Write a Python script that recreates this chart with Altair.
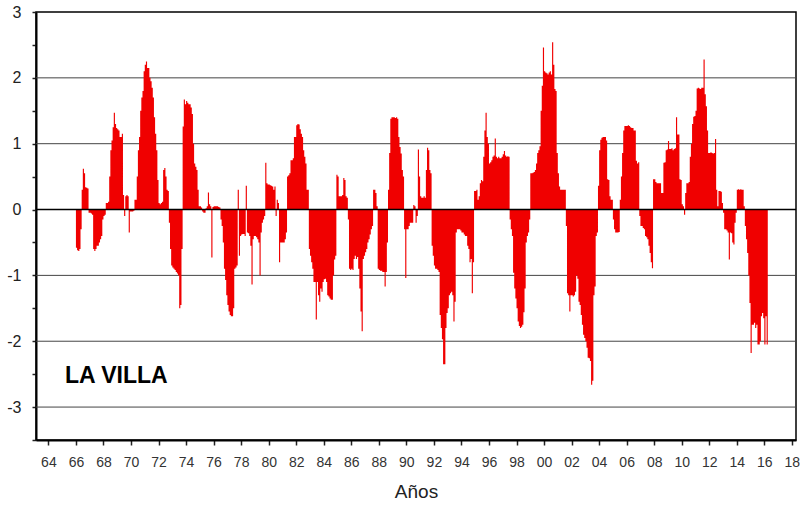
import altair as alt
import pandas as pd

# Monthly index values, January 1966 onwards
spi_1966_1969 = [
    -0.58, -0.62, -0.63, -0.6, -0.3, 0.3, 0.62, 0.55, 0.34, 0.33, 0.32, -0.05,
    -0.05, -0.06, -0.08, -0.6, -0.63, -0.6, -0.55, -0.55, -0.5, -0.45, -0.4, -0.15,
    -0.1, -0.08, 0.1, 0.1, 0.12, 0.5, 0.9, 1.05, 1.25, 1.47, 1.3, 1.24,
    1.22, 1.2, 1.1, 1.1, 1.15, 0.22, -0.1, 0.2, 0.22, 0.2, -0.35, -0.03,
]
spi_1970s = [
    -0.03, -0.03, -0.02, 0.15, 0.15, 0.5, 0.9, 1.1, 1.5, 1.7, 1.8, 2.1,
    2.2, 2.25, 2.15, 2.15, 2.0, 1.95, 1.85, 1.7, 1.4, 1.15, 0.9, 0.45,
    0.1, 0.08, 0.1, 0.12, 0.6, 0.63, 0.5, 0.3, 0.28, -0.2, -0.6, -0.85,
    -0.88, -0.9, -0.92, -0.95, -0.97, -1.0, -1.5, -1.45, -0.6, 1.26, 1.67, 1.6,
    1.65, 1.62, 1.6, 1.6, 1.55, 1.45, 1.0, 0.7, 0.65, 0.6, 0.3, 0.05,
    0.05, 0.03, -0.03, -0.05, -0.05, 0.02, 0.05, 0.26, 0.08, 0.05, -0.73, 0.04,
    0.05, 0.05, 0.05, 0.05, 0.04, 0.03, -0.15, -0.25, -0.5, -0.9, -1.07, -1.3,
    -1.45, -1.55, -1.6, -1.62, -1.62, -1.5, -0.9, -0.88, -0.85, 0.3, -0.7, -0.4,
    -0.38, -0.37, -0.37, -0.4, 0.36, -0.35, -0.36, -0.4, -0.55, -1.14, -0.45, -0.4,
    -0.4, -0.42, -0.45, -0.5, -1.0, -0.35, -0.2, -0.15, -0.1, 0.71, 0.4, 0.38,
]
spi_1980s = [
    0.38, 0.37, 0.36, 0.35, 0.3, 0.35, -0.1, 0.15, 0.1, -0.8, -0.5, -0.5,
    -0.5, -0.5, -0.45, -0.35, 0.5, 0.52, 0.55, 0.75, 0.75, 0.78, 1.1, 1.1,
    1.28, 1.3, 1.29, 1.22, 1.15, 1.1, 0.9, 0.8, 0.7, 0.3, 0.3, -0.6,
    -0.7, -0.8, -0.9, -1.1, -1.1, -1.67, -1.1, -1.3, -1.4, -1.2, -1.25, -1.1,
    -1.06, -1.05, -1.1, -1.3, -1.32, -1.35, -1.37, -1.37, -1.0, -0.76, -0.7, 0.53,
    0.5, 0.2, 0.2, 0.2, 0.22, 0.48, 0.45, 0.2, 0.18, -0.15, -0.9, -0.92,
    -0.9, -0.92, -0.75, -0.7, -0.75, -0.72, -0.9, -1.2, -1.55, -1.85, -0.75, -0.7,
    -0.65, -0.6, -0.5, -0.45, -0.38, -0.3, -0.25, 0.3, 0.3, 0.25, 0.05, -0.9,
    -0.92, -0.93, -0.93, -0.95, -0.95, -1.17, -0.95, -0.5, 0.3, 0.86, 1.38, 1.4,
    1.4, 1.4, 1.39, 1.4, 1.38, 1.1, 0.95, 0.85, 0.6, 0.5, -0.3, -1.04,
]
spi_1990s = [
    -0.3, -0.3, -0.25, -0.2, -0.2, -0.2, 0.07, 0.05, -0.2, -0.1, 0.91, 0.5,
    0.2, 0.18, 0.18, 0.2, 0.18, 0.6, 0.94, 0.9, 0.6, 0.55, -0.55, -0.7,
    -0.85, -0.9, -0.9, -0.92, -0.95, -1.6, -1.8, -1.97, -2.35, -2.35, -1.8, -1.57,
    -1.5, -1.3, -1.27, -1.25, -1.3, -1.7, -1.4, -0.35, -0.3, -0.3, -0.3, -0.32,
    -0.35, -0.35, -0.38, -0.4, -0.4, -0.55, -0.6, -0.8, -0.75, -1.27, -0.8, 0.28,
    0.28, 0.3, 0.15, 0.2, 0.4, 0.45, 0.43, 0.8, 1.2, 1.47, 1.1, 1.0,
    0.7, 0.72, 0.75, 0.8, 0.82, 1.08, 0.8, 0.78, 0.8, 0.78, 0.78, 0.8,
    0.84, 0.89, 0.82, 0.8, 0.81, 0.8, -0.15, -0.3, -0.4, -0.96, -1.2, -1.35,
    -1.5, -1.7, -1.77, -1.8, -1.78, -1.75, -1.56, -1.2, -0.5, -0.4, -0.35, -0.15,
    0.55, 0.55, 0.56, 0.57, 0.6, 0.7, 0.86, 0.9, 0.96, 1.5, 1.88, 2.46,
]
spi_2000s = [
    2.1, 2.08, 2.07, 2.05, 2.08, 2.1, 2.05, 2.54, 2.2, 1.83, 1.8, 0.86,
    0.55, 0.35, 0.3, 0.3, 0.3, 0.3, 0.3, -0.25, -1.27, -1.3, -1.55, -1.3,
    -1.3, -1.32, -1.3, -1.25, -1.0, -1.05, -1.4, -1.45, -1.6, -1.75, -1.9, -1.95,
    -2.0, -2.1, -2.25, -2.26, -2.3, -2.66, -2.6, -1.3, -1.17, -0.4, -0.35, 0.36,
    0.9, 1.06, 1.09, 1.1, 1.1, 1.1, 1.05, 0.46, 0.45, 0.2, 0.15, 0.15,
    -0.15, -0.3, -0.35, -0.35, -0.35, -0.34, 0.15, 0.5, 0.86, 1.2, 1.27, 1.27,
    1.27, 1.28, 1.27, 1.25, 1.24, 1.24, 1.2, 1.2, 0.74, 0.7, 0.72, -0.1,
    -0.25, -0.25, -0.28, -0.3, -0.4, -0.42, -0.45, -0.55, -0.66, -0.8, -0.89, 0.46,
    0.46, 0.42, 0.4, 0.4, 0.4, 0.4, 0.25, 0.25, 0.71, 0.72, 0.9, 0.91,
    1.04, 0.92, 0.92, 0.93, 0.9, 0.92, 0.93, 1.4, 1.14, 1.14, 0.46, 0.45,
]
spi_2010s = [
    0.08, 0.05, -0.08, 0.25, 0.4, 0.4, 0.42, 0.8, 1.0, 1.3, 1.41, 1.42,
    1.5, 1.84, 1.85, 1.84, 1.83, 1.85, 1.85, 2.28, 1.75, 1.57, 1.2, 0.86,
    0.86, 0.87, 0.86, 0.85, 0.86, 1.07, 0.3, 0.05, 0.28, 0.28, 0.27, 0.1,
    -0.05, -0.3, -0.3, -0.32, -0.35, -0.76, -0.35, -0.36, -0.5, -0.53, -0.2, -0.05,
    0.3, 0.31, 0.3, 0.31, 0.3, 0.3, 0.05, -0.25, -0.45, -0.66, -1.0, -1.42,
    -2.18, -1.75, -1.75, -1.72, -1.8, -1.75, -2.05, -2.05, -2.0, -1.62, -1.57, -1.65,
    -2.05, -1.62, -2.05,
]

start_year = 1966
x_ticks = list(range(1964, 2019, 2))
y_ticks = [-3.5, -3, -2.5, -2, -1.5, -1, -0.5, 0, 0.5, 1, 1.5, 2, 2.5, 3]
grid_lines = [-3, -2, -1, 1, 2]
station = ["LA VILLA"]

values = spi_1966_1969 + spi_1970s + spi_1980s + spi_1990s + spi_2000s + spi_2010s
times = [start_year + i / 12 for i in range(len(values))]
# closing point so the last month gets its full step width
times_ext = times + [start_year + len(values) / 12]
values_ext = values + [values[-1]]
df = pd.DataFrame({"t": times_ext, "v": values_ext})

x_scale = alt.Scale(domain=[1963.1, 2018.3], nice=False, zero=False)
y_scale = alt.Scale(domain=[-3.5, 3], nice=False, zero=False)

y_axis = alt.Axis(
    values=y_ticks,
    labelExpr="(datum.value % 1 == 0) ? toString(datum.value) : ''",
    title=None,
    grid=False,
    tickSize=4,
    tickColor="#222222",
    tickWidth=1.5,
    labelFontSize=16,
    labelColor="#222222",
    labelPadding=11,
    labelFlush=False,
    labelOverlap=False,
    domainColor="black",
    domainWidth=2,
)

x_axis = alt.Axis(
    values=x_ticks,
    labelExpr="substring(toString(datum.value), 2)",
    title="Años",
    titleFontSize=19,
    titleFontWeight="normal",
    titleColor="#222222",
    titleY=57,
    titleX=380,
    titleBaseline="alphabetic",
    grid=False,
    tickSize=5,
    tickColor="#222222",
    tickWidth=1.5,
    labelFontSize=14,
    labelColor="#333333",
    labelBaseline="alphabetic",
    labelPadding=21,
    labelFlush=False,
    labelOverlap=False,
    domainColor="black",
    domainWidth=2,
)

grid = alt.Chart(pd.DataFrame({"v": grid_lines})).mark_rule(
    color="#444444", strokeWidth=1
).encode(y=alt.Y("v:Q", scale=y_scale, axis=y_axis))

area = alt.Chart(df).mark_area(interpolate="step-after", color="#F00000").encode(
    x=alt.X("t:Q", scale=x_scale, axis=x_axis),
    y=alt.Y("v:Q", scale=y_scale, axis=y_axis),
    y2=alt.datum(0),
)

zero = alt.Chart(pd.DataFrame({"v": [0]})).mark_rule(
    color="black", strokeWidth=1.6
).encode(y=alt.Y("v:Q", scale=y_scale, axis=y_axis))

label = alt.Chart(pd.DataFrame({"name": station})).mark_text(
    align="left", baseline="alphabetic", fontSize=23, fontWeight="bold", color="black"
).encode(text="name:N", x=alt.value(29), y=alt.value(371))

chart = (
    alt.layer(grid, area, zero, label)
    .properties(
        width=760,
        height=428,
        padding={"left": 36, "top": 12, "right": 5, "bottom": 66},
        autosize=alt.AutoSizeParams(type="none"),
        background="white",
    )
    .configure(font="Liberation Sans")
    .configure_view(stroke="black", strokeWidth=1.5)
)

chart.save("out.html", embed_options={"renderer": "svg", "actions": False})
